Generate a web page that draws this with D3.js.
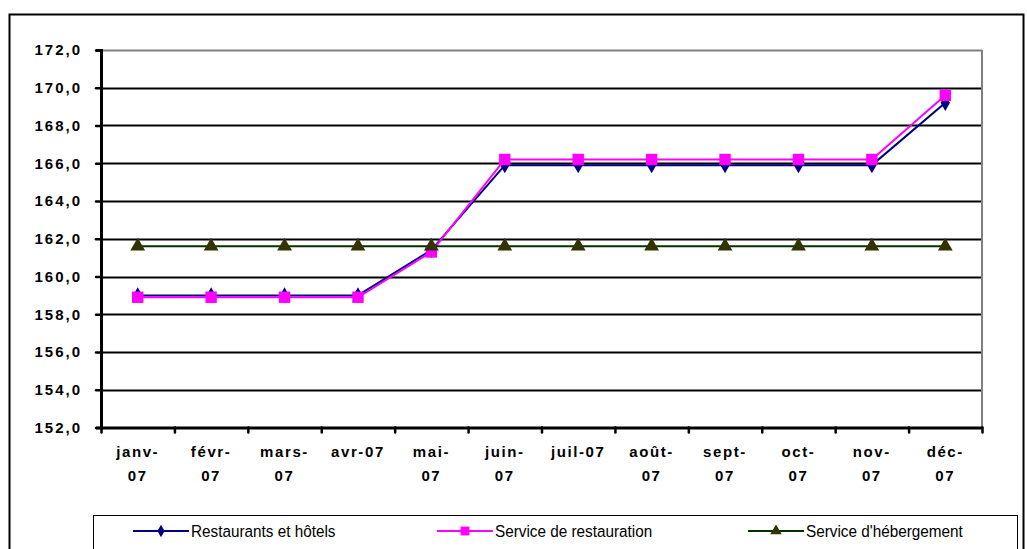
<!DOCTYPE html>
<html><head><meta charset="utf-8">
<script src="https://cdn.jsdelivr.net/npm/d3@7"></script>
<style>body{margin:0;background:#fff}svg{display:block}</style>
</head><body><svg id="c" width="1027" height="549"></svg>
<script>
const categories = [["janv-","07"],["févr-","07"],["mars-","07"],["avr-07"],["mai-","07"],["juin-","07"],["juil-07"],["août-","07"],["sept-","07"],["oct-","07"],["nov-","07"],["déc-","07"]];
const seriesNames = ["Restaurants et hôtels","Service de restauration","Service d'hébergement"];
const restaurantsHotels = [159.0,159.0,159.0,159.0,161.4,165.9,165.9,165.9,165.9,165.9,165.9,169.2];
const serviceRestauration = [158.9,158.9,158.9,158.9,161.3,166.2,166.2,166.2,166.2,166.2,166.2,169.6];
const serviceHebergement = [161.6,161.6,161.6,161.6,161.6,161.6,161.6,161.6,161.6,161.6,161.6,161.6];
const yTicks = [152,154,156,158,160,162,164,166,168,170,172];

const svg = d3.select("#c");
const L=101,R=982,T=50,B=427.5;
const x = d3.scaleBand().domain(d3.range(categories.length)).range([L,R]);
const y = d3.scaleLinear().domain([152,172]).range([B,T]);
const fmt = v => d3.format(".1f")(v).replace(".", ",");
const FONT = "Liberation Sans, Arial, sans-serif";

// outer frame
svg.append("rect").attr("x",9.5).attr("y",14.5).attr("width",1014).attr("height",540).attr("fill","none").attr("stroke","#000").attr("stroke-width",2);

// gridlines
svg.append("g").selectAll("line").data(yTicks.slice(1)).join("line")
  .attr("x1",L).attr("x2",R).attr("y1",d=>Math.round(y(d))+0.5).attr("y2",d=>Math.round(y(d))+0.5)
  .attr("stroke",d=>d===172?"#808080":"#000").attr("stroke-width",2);
// right border
svg.append("line").attr("x1",R).attr("x2",R).attr("y1",T).attr("y2",B).attr("stroke","#808080").attr("stroke-width",2);

// y axis
const ya = svg.append("g").attr("transform",`translate(${L},0)`)
  .call(d3.axisLeft(y).tickValues(yTicks).tickFormat(fmt).tickSize(5).tickPadding(14));
ya.select(".domain").attr("stroke","#000").attr("stroke-width",3);
ya.selectAll(".tick line").attr("stroke","#000").attr("stroke-width",2.5).attr("stroke-linecap","round");
ya.selectAll(".tick text").attr("font-family",FONT).attr("font-weight","bold").attr("font-size","15px").attr("letter-spacing","2px").attr("fill","#000");

// x axis
const xa = svg.append("g").attr("transform",`translate(0,${B})`)
  .call(d3.axisBottom(d3.scaleLinear().domain([0,categories.length]).range([L,R])).tickValues(d3.range(categories.length+1)).tickFormat("").tickSize(5).tickSizeOuter(0));
xa.select(".domain").attr("stroke","#000").attr("stroke-width",3);
xa.selectAll(".tick line").attr("stroke","#000").attr("stroke-width",2.5).attr("stroke-linecap","round");

const xl = svg.append("g");
categories.forEach((c,i)=>{
  const t = xl.append("text").attr("x",x(i)+x.bandwidth()/2).attr("y",457)
    .attr("text-anchor","middle").attr("font-family",FONT)
    .attr("font-weight","bold").attr("font-size","15px").attr("letter-spacing","1.6px");
  c.forEach((ln,j)=>t.append("tspan").attr("x",x(i)+x.bandwidth()/2).attr("dy",j?24:0).text(ln));
});

const cx = i => x(i)+x.bandwidth()/2;
const line = d3.line().x((d,i)=>cx(i)).y(d=>y(d));
const styles = [
  {data:restaurantsHotels,color:"#000080",sym:d3.symbolDiamond,size:75,fill:"#000080"},
  {data:serviceRestauration,color:"#FF00FF",sym:d3.symbolSquare,size:130,fill:"#FF00FF"},
  {data:serviceHebergement,color:"#003300",sym:d3.symbolTriangle,size:95,fill:"#333300"}
];
styles.forEach(s=>{
  svg.append("path").datum(s.data).attr("d",line).attr("fill","none").attr("stroke",s.color).attr("stroke-width",2);
  svg.append("g").selectAll("path").data(s.data).join("path")
    .attr("transform",(d,i)=>`translate(${cx(i)},${y(d)})`)
    .attr("d",d3.symbol().type(s.sym).size(s.size)).attr("fill",s.fill);
});

// legend
svg.append("rect").attr("x",93.5).attr("y",515.5).attr("width",924).attr("height",34).attr("fill","#fff").attr("stroke","#000").attr("stroke-width",1);
const legX=[133,437,748];
styles.forEach((s,i)=>{
  const g=svg.append("g").attr("transform",`translate(${legX[i]},531)`);
  g.append("line").attr("x1",0).attr("x2",56).attr("stroke",s.color).attr("stroke-width",2);
  g.append("path").attr("transform","translate(28,0)").attr("d",d3.symbol().type(s.sym).size(s.size*0.6)).attr("fill",s.fill);
  g.append("text").attr("transform","translate(58,6) scale(0.9,1)").attr("font-family",FONT).attr("font-size","17px").text(seriesNames[i]);
});
</script></body></html>
